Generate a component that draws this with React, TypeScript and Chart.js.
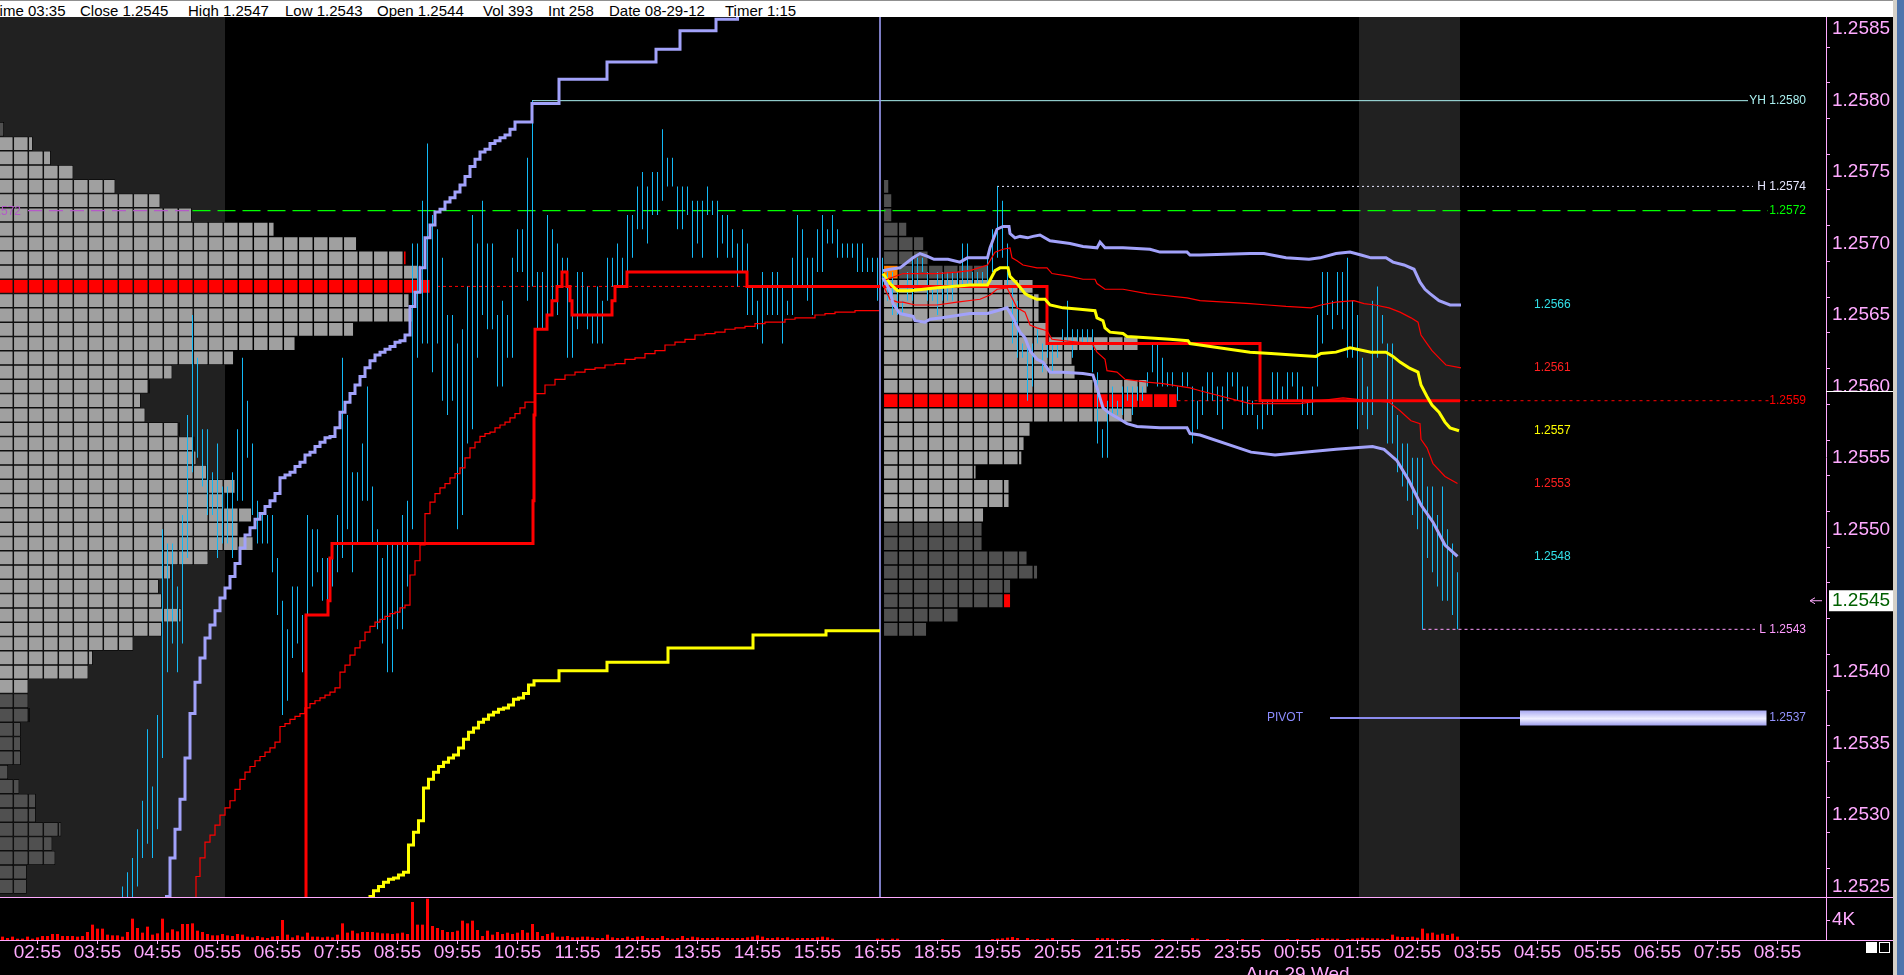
import React, { useEffect, useRef } from 'react';
import { Chart, registerables } from 'chart.js';

Chart.register(...registerables);

// ---------- styling constants ----------
const PINK = '#ffaaff';
const FONT = '"Liberation Sans", Arial, sans-serif';
const BLUE = '#12b9f6';
const LAV = '#a2a2fa';
const RED = '#ff0000';
const YEL = '#ffff00';

// ---------- scale geometry (5-minute bar index on x, price on y) ----------
const X_MIN = -7.5;
const X_MAX = 357.7;
const Y_MIN = 1.2524265;
const Y_MAX = 1.2585856;
const ROW_PX = 14.29;

const BASE = 1.25;
const PIP = 0.0001;
const toPrice = (p: number) => BASE + p * PIP;

// ---------- x axis (bar index 0 = 02:55 Aug 28, closed hour 17:00 skipped) ----------
const hourTickIndex = [0, 12, 24, 36, 48, 60, 72, 84, 96, 108, 120, 132, 144, 156, 168, 180, 192, 204, 216, 228, 240, 252, 264, 276, 288, 300, 312, 324, 336, 348];
const hourTickLabels = ['02:55', '03:55', '04:55', '05:55', '06:55', '07:55', '08:55', '09:55', '10:55', '11:55', '12:55', '13:55', '14:55', '15:55', '16:55', '18:55', '19:55', '20:55', '21:55', '22:55', '23:55', '00:55', '01:55', '02:55', '03:55', '04:55', '05:55', '06:55', '07:55', '08:55'];
const dayLabel = 'Aug 29 Wed';
const dayLabelTick = 21;

// ---------- y axis ----------
const priceTickLabels = ['1.2525', '1.2530', '1.2535', '1.2540', '1.2545', '1.2550', '1.2555', '1.2560', '1.2565', '1.2570', '1.2575', '1.2580', '1.2585'];
const volumeTicks = [4000];
const volumeTickLabels = ['4K'];
const VOL_MAX = 8600;

// ---------- session shading (bar index ranges) ----------
const shadeRanges = [[-8, 37.5], [264.3, 284.5]];
const sessionBreak = 168.5;

// ---------- price bars (pips above 1.2500), first bar index 17 ----------
const barStartIndex = 17;
const barHighs = [
  25, 26, 27, 29, 31, 36, 32, 37, 50, 49,
  49, 46, 51, 58, 65, 62, 57, 57, 54, 56,
  53, 53, 54, 57, 62, 59, 56, 52, 51, 51,
  51, 48, 45, 43, 46, 46, 44, 51, 50, 50,
  48, 48, 49, 51, 62, 58, 54, 54, 56, 60,
  53, 50, 48, 49, 49, 49, 51, 52, 70, 70,
  73, 77, 72, 71, 69, 65, 65, 63, 64, 67,
  72, 70, 73, 70, 70, 65, 66, 65, 69, 71,
  71, 76, 80, 68, 68, 72, 71, 70, 69, 69,
  66, 68, 68, 67, 65, 67, 66, 69, 69, 70,
  69, 72, 72, 74, 75, 74, 75, 75, 78, 76,
  76, 74, 74, 74, 73, 73, 73, 74, 73, 73,
  72, 72, 71, 70, 71, 70, 67, 66, 68, 67,
  68, 68, 67, 66, 69, 72, 71, 69, 69, 71,
  72, 71, 72, 71, 70, 70, 70, 70, 70, 69,
  69, 69,
  69, 68, 68, 67, 66, 68, 69, 69, 69, 68,
  67, 68, 68, 68, 68, 68, 70, 70, 68, 68,
  68, 69, 71, 74, 73, 70, 67, 66, 63, 63,
  63, 64, 63, 64, 63, 63, 64, 66, 64, 64,
  64, 64, 64, 61, 57, 59, 60, 59, 60, 60,
  60, 60, 60, 61, 63, 63, 62, 61, 61, 60,
  61, 61, 60, 59, 60, 61, 61, 60, 60, 61,
  61, 61, 60, 60, 59, 58, 59, 59, 61, 61,
  60, 61, 61, 61, 60, 59, 60, 65, 68, 68,
  66, 68, 68, 69, 66, 65, 62, 60, 66, 67,
  65, 63, 63, 58, 56, 56, 55, 55, 55, 53,
  53, 51, 53, 50, 49, 47,
];
const barLows = [
  22, 22, 23, 25, 27, 28, 27, 29, 34, 40,
  42, 40, 42, 48, 54, 55, 53, 51, 51, 48,
  49, 49, 48, 52, 52, 55, 51, 49, 49, 49,
  47, 44, 37, 38, 41, 42, 40, 44, 46, 47,
  45, 45, 46, 47, 48, 50, 47, 49, 52, 52,
  49, 43, 42, 40, 40, 43, 43, 46, 50, 62,
  63, 63, 61, 63, 59, 58, 59, 50, 51, 56,
  57, 62, 65, 64, 64, 60, 60, 62, 62, 68,
  68, 66, 67, 64, 64, 64, 65, 65, 67, 62,
  62, 64, 65, 64, 63, 63, 63, 66, 67, 67,
  67, 68, 69, 71, 71, 70, 72, 72, 73, 74,
  74, 71, 71, 72, 69, 70, 69, 72, 72, 69,
  70, 69, 69, 67, 68, 65, 65, 64, 63, 65,
  65, 65, 63, 65, 65, 67, 67, 66, 65, 68,
  68, 70, 70, 69, 69, 69, 69, 68, 68, 68,
  68, 66,
  67, 66, 65, 65, 65, 66, 66, 67, 68, 66,
  66, 65, 66, 66, 66, 67, 67, 67, 67, 67,
  67, 67, 68, 69, 69, 67, 63, 62, 62, 59,
  60, 63, 61, 62, 61, 62, 63, 63, 62, 63,
  63, 63, 61, 56, 55, 55, 58, 58, 58, 59,
  58, 59, 59, 60, 61, 60, 60, 60, 60, 59,
  60, 60, 56, 57, 58, 59, 59, 58, 57, 59,
  60, 59, 58, 58, 58, 57, 57, 58, 58, 59,
  59, 59, 60, 59, 58, 58, 58, 60, 63, 65,
  64, 65, 64, 62, 62, 57, 58, 57, 58, 62,
  63, 56, 56, 54, 53, 52, 51, 50, 43, 48,
  47, 46, 45, 45, 44, 43,
];

// ---------- volume ----------
const volStartIndex = -7;
const volumesDay1 = [
  670, 400, 670, 270, 270, 670, 270,
  530, 800, 800, 1200, 1200, 800, 800, 800, 670, 800,
  1600, 3070, 2270, 2270, 1070, 930, 930, 670, 1600, 4270,
  2400, 1470, 2670, 1070, 1330, 4270, 1470, 2130, 1730, 3200,
  3200, 3330, 1870, 1600, 1200, 930, 930, 1200, 930, 800,
  1200, 1070, 670, 530, 800, 530, 400, 670, 800, 4000,
  1070, 530, 930, 670, 1470, 670, 670, 530, 670, 530,
  1070, 3330, 1470, 1870, 1330, 1600, 1600, 1600, 1470, 1330,
  1330, 1200, 1330, 1470, 1200, 7600, 3070, 3070, 8270, 2800,
  2400, 2000, 1600, 1600, 1870, 3870, 3330, 3870, 2000, 800,
  1870, 1070, 1600, 1200, 1470, 1200, 1470, 2000, 1470, 3200,
  1600, 800, 1200, 1470, 670, 670, 800, 530, 530, 670,
  670, 530, 400, 400, 1070, 530, 400, 400, 670, 400,
  670, 800, 400, 400, 400, 800, 400, 270, 400, 800,
  400, 670, 530, 400, 400, 400, 530, 400, 400, 400,
  400, 400, 530, 670, 930, 670, 400, 400, 530, 400,
  530, 270, 400, 400, 400, 400, 530, 670, 530, 270,
];
const volumesLate = [
  [168, 270], [169, 270], [171, 270], [172, 270], [181, 200], [191, 200], [192, 270], [193, 330], [194, 470], [195, 600],
  [196, 400], [198, 400], [199, 130], [200, 200], [202, 270], [203, 400], [207, 200], [212, 400], [213, 330], [214, 400],
  [215, 270], [217, 200], [218, 200], [223, 200], [225, 200], [231, 400], [232, 270], [234, 200], [238, 200], [241, 200],
  [245, 200], [250, 200], [252, 200], [255, 200], [256, 330], [257, 400], [258, 270], [259, 270], [260, 270], [262, 200],
  [263, 270], [264, 330], [265, 470], [266, 330], [267, 330], [268, 330], [269, 270], [270, 200], [271, 1070], [272, 670],
  [273, 600], [274, 600], [275, 670], [276, 470], [277, 2270], [278, 1330], [279, 1470], [280, 1070], [281, 1270], [282, 1000],
  [283, 1270], [284, 670],
];

// ---------- market profiles (TPO counts per pip row, 3 bars per cell) ----------
const leftProfileStart = -7.84;
const leftProfileTopPip = 78;
const leftProfileCounts = [
  0.38, 2.3, 3.5, 5.0, 7.8, 10.8, 12.9, 18.4, 23.9, 27.2,
  28.2, 28.8, 27.4, 27.6, 23.7, 19.8, 15.7, 11.6, 10.1, 9.5,
  9.8, 12.1, 13.1, 13.2, 13.9, 15.8, 15.0, 16.9, 16.0, 17.1,
  14.0, 11.5, 10.7, 10.9, 12.2, 10.9, 9.0, 6.3, 6.0, 2.0,
  2.0, 2.1, 1.5, 1.5, 1.5, 0.65, 1.4, 2.5, 2.5, 4.2,
  3.6, 3.8, 1.9, 1.9,
];
const leftProfileShades = 'd' + 'llllllllll' + 'r' + 'llllllllll' + 'llllllllll' + 'llllllll' + 'dddddddddddddd';
const leftProfileRedTail = [69];

const day2ProfileStart = 169.16;
const day2ProfileTopPip = 74;
const day2ProfileCounts = [
  0.38, 0.58, 0.58, 1.58, 2.71, 3.0, 7.0, 10.1, 10.4, 10.4,
  10.9, 17.0, 12.6, 12.8, 17.6, 19.6, 16.6, 9.8, 9.4, 9.25,
  6.2, 8.4, 8.4, 6.7, 6.6, 6.6, 9.6, 10.3, 8.5, 8.5,
  5.1, 2.9,
];
const day2ProfileShades = 'ddddddd' + 'llllllll' + 'r' + 'llllllll' + 'dddddddd';
const day2ProfileRedTail = [45];
const day2ProfileOpenPip = 68;

// ---------- studies: [bar index, pips above 1.2500] ----------
const lavenderDay1 = [
  [25.5, 24.3], [26.5, 27.0], [27.5, 29.0], [28.5, 31.1], [29.5, 34.0], [30.5, 37.1], [31.5, 39.3], [32.5, 41.0], [33.5, 42.4], [34.5, 43.3],
  [35.5, 44.3], [36.5, 45.2], [37.5, 45.9], [38.5, 46.7], [39.5, 47.6], [40.5, 48.7], [41.5, 49.6], [42.5, 50.1], [43.5, 50.7], [44.5, 51.1],
  [45.5, 51.6], [46.5, 52.0], [47.5, 52.5], [48.5, 53.6], [49.5, 53.8], [50.5, 54.0], [51.5, 54.4], [52.5, 54.7], [53.5, 55.2], [54.5, 55.4],
  [55.5, 55.8], [56.5, 56.1], [57.5, 56.4], [58.5, 56.5], [59.5, 57.1], [60.5, 58.2], [61.5, 58.9], [62.5, 59.5], [63.5, 60.1], [64.5, 60.7],
  [65.5, 61.3], [66.5, 61.8], [67.5, 62.2], [68.5, 62.4], [69.5, 62.6], [70.5, 62.8], [71.5, 63.1], [72.5, 63.2], [73.5, 63.6], [74.5, 65.6],
  [75.5, 66.6], [76.5, 68.3], [77.5, 70.4], [78.5, 71.3], [79.5, 72.2], [80.5, 72.4], [81.5, 72.9], [82.5, 73.2], [83.5, 73.6], [84.5, 74.1],
  [85.5, 74.7], [86.5, 75.4], [87.5, 75.9], [88.5, 76.4], [89.5, 76.6], [90.5, 77.0], [91.5, 77.2], [92.5, 77.4], [93.5, 77.6], [94.5, 78.0],
  [95.5, 78.5], [98.9, 79.8], [104.3, 81.5], [113.9, 82.7], [123.7, 83.6], [128.5, 84.9], [135.7, 85.7], [140, 86.5],
];
const redThinDay1 = [
  [31.5, 22], [31.7, 25.7], [32.5, 27.0], [33.5, 28.1], [34.5, 28.6], [35.5, 29.3], [36.5, 30.0], [37.5, 30.5], [38.5, 31.0], [39.5, 31.8],
  [40.5, 32.5], [41.5, 33.0], [42.5, 33.4], [43.5, 33.8], [44.5, 34.1], [45.5, 34.4], [46.5, 34.7], [47.5, 35.1], [48.5, 36.2], [49.5, 36.4],
  [50.5, 36.7], [51.5, 36.9], [52.5, 37.1], [53.5, 37.5], [54.5, 37.8], [55.5, 38.0], [56.5, 38.2], [57.5, 38.4], [58.5, 38.6], [59.5, 38.9],
  [60.5, 40.0], [61.5, 40.5], [62.5, 41.2], [63.5, 41.7], [64.5, 42.2], [65.5, 42.8], [66.5, 43.2], [67.5, 43.5], [68.5, 43.7], [69.5, 43.9],
  [70.5, 44.1], [71.5, 44.2], [72.5, 44.5], [73.5, 44.7], [74.5, 46.8], [75.5, 47.8], [76.5, 48.9], [77.5, 51.1], [78.5, 51.9], [79.5, 52.5],
  [80.5, 52.9], [81.5, 53.2], [82.5, 53.6], [83.5, 53.9], [84.5, 54.3], [85.5, 55.0], [86.5, 55.7], [87.5, 56.1], [88.5, 56.5], [89.5, 56.7],
  [90.5, 56.8], [91.5, 57.1], [92.5, 57.3], [93.5, 57.5], [94.5, 57.8], [95.5, 58.1], [96.5, 58.5], [97.5, 58.9], [99.5, 59.5], [101.5, 60.1],
  [103.5, 60.5], [105.5, 60.8], [107.5, 61.0], [109.5, 61.2], [111.5, 61.3], [113.5, 61.5], [115.5, 61.6], [117.5, 61.9], [119.5, 62.0], [121.5, 62.3],
  [123.5, 62.5], [125.5, 62.9], [127.5, 63.1], [129.5, 63.3], [131.5, 63.6], [133.5, 63.7], [135.5, 63.8], [137.5, 64.0], [139.5, 64.1], [141.5, 64.2],
  [143.5, 64.4], [145.5, 64.5], [147.5, 64.5], [149.5, 64.7], [151.5, 64.8], [153.5, 64.8], [155.5, 65.0], [157.5, 65.1], [159.5, 65.2], [163.5, 65.3],
  [168.3, 65.3],
];
const yellowDay1 = [
  [66.2, 24.3], [67.2, 24.7], [68.2, 25.0], [69.2, 25.3], [70.2, 25.5], [71.2, 25.6], [72.2, 25.8], [73.2, 26.0], [74.2, 27.9], [75.2, 28.8],
  [76.2, 29.6], [77.2, 31.9], [78.2, 32.5], [79.2, 33.0], [80.2, 33.4], [81.2, 33.7], [82.2, 34.0], [83.2, 34.2], [84.2, 34.7], [85.2, 35.3],
  [86.2, 35.8], [87.2, 36.1], [88.2, 36.5], [89.2, 36.7], [90.2, 37.0], [91.2, 37.2], [92.2, 37.4], [93.2, 37.5], [94.2, 37.7], [95.2, 38.1],
  [96.2, 38.2], [97.2, 38.5], [98.2, 39.1], [99.3, 39.4], [104.3, 40.1], [113.9, 40.7], [126.1, 41.7], [143.1, 42.6], [157.7, 42.9], [168.5, 42.9],
];
const pocDay1 = [
  [50, 20], [53.7, 44], [58.1, 45], [58.5, 48], [58.9, 49], [99.1, 52], [99.3, 58], [99.5, 64], [101.9, 65], [102.9, 66],
  [103.9, 67], [104.9, 68], [105.9, 67], [106.5, 66], [106.9, 65], [114.9, 66], [115.5, 67], [117.9, 68], [141.9, 67], [168.5, 67],
];
const lavUpperDay2 = [
  [169.1, 68.1], [170.5, 68.2], [172.5, 68.3], [175.1, 69.0], [176.5, 69.3], [178, 69.1], [179.3, 68.9], [182.1, 68.9], [184.5, 68.7], [186, 69.0],
  [190, 69.0], [190.5, 69.7], [191.9, 71.0], [193.1, 71.2], [194.3, 71.2], [194.5, 70.7], [195.5, 70.4], [196.5, 70.5], [198, 70.4], [199.1, 70.5],
  [200.5, 70.6], [202.5, 70.2], [206.5, 70.0], [209.1, 69.8], [211.9, 69.7], [212.5, 70.1], [213.5, 69.7], [217.1, 69.7], [222.5, 69.6], [224.5, 69.4],
  [229.9, 69.4], [230.5, 69.2], [232.5, 69.2], [242.5, 69.3], [245.3, 69.3], [249.7, 69.0], [254.3, 68.9], [256.5, 69.0], [259.7, 69.3], [262.5, 69.4],
  [264.7, 69.2], [266.7, 69.0], [269.7, 69.0], [271.1, 68.7], [273.3, 68.5], [275.3, 68.2], [276.5, 67.3], [277.5, 66.8], [278.5, 66.5], [280.3, 66.0],
  [282.5, 65.7], [284.7, 65.7],
];
const lavLowerDay2 = [
  [169.1, 67.6], [170.5, 66.7], [171.1, 65.8], [172.5, 65.1], [175.1, 64.9], [175.5, 64.6], [177.5, 64.5], [178.5, 64.7], [180.9, 64.8], [186.5, 65.1],
  [190, 65.1], [191.9, 65.3], [193.9, 65.5], [195.1, 64.8], [196.5, 63.8], [197.5, 63.4], [198.5, 62.5], [199.9, 61.9], [201.1, 61.7], [202.5, 61.0],
  [205.1, 61.0], [209.1, 60.9], [211.1, 60.8], [211.9, 59.9], [212.5, 59.2], [213.1, 58.5], [214.5, 58.1], [216.5, 57.7], [217.9, 57.4], [219.9, 57.2],
  [224.5, 57.1], [229.9, 57.1], [230.5, 56.7], [232.5, 56.6], [242.7, 55.4], [247.5, 55.2], [259.7, 55.6], [267, 55.8], [269.3, 55.6], [271.9, 54.8],
  [274.3, 53.4], [276.7, 51.7], [279.1, 50.5], [281.5, 48.9], [284, 48.1],
];
const redUpperDay2 = [
  [169.1, 67.4], [173.1, 67.9], [179.9, 67.9], [183.9, 68.0], [186.5, 68.1], [190, 68.5], [191.5, 69.4], [193.1, 69.6], [194.5, 69.7], [194.9, 69.0],
  [195.9, 68.8], [197.1, 68.5], [199.9, 68.3], [201.9, 68.3], [202.9, 67.9], [206.5, 67.7], [209.1, 67.5], [211.5, 67.5], [211.9, 67.2], [213.5, 66.8],
  [217.1, 66.8], [221.9, 66.5], [224.5, 66.4], [229.9, 66.2], [232.5, 66.0], [242.5, 65.8], [246.1, 65.7], [249.7, 65.6], [254.7, 65.5], [256.7, 65.7],
  [259.7, 65.9], [263.3, 66.0], [265.3, 65.8], [267.5, 65.7], [270.3, 65.5], [272.5, 65.2], [274.7, 64.8], [276.1, 64.5], [276.7, 63.6], [277.9, 63.0],
  [278.9, 62.5], [280.3, 62.0], [281.7, 61.5], [284.7, 61.3],
];
const redLowerDay2 = [
  [169.1, 67.1], [170.5, 66.1], [172, 65.9], [173.1, 65.9], [175.5, 65.7], [179.9, 65.7], [183.9, 65.9], [188.5, 66.1], [190.5, 66.4], [191.9, 66.8],
  [193.9, 66.9], [194.9, 66.2], [195.9, 65.5], [197.5, 65.2], [198.5, 64.3], [199.9, 64.1], [201.9, 63.9], [202.9, 63.3], [205.1, 63.2], [210.9, 63.0],
  [211.9, 62.4], [213.5, 61.9], [213.9, 61.1], [215.9, 61.0], [217.5, 60.5], [221.9, 60.3], [225.1, 60.2], [230.5, 59.9], [232.5, 59.7], [242.5, 58.8],
  [252.5, 58.8], [256.7, 59.0], [261.1, 59.2], [263.9, 59.1], [270.3, 58.9], [272.5, 58.3], [274.7, 57.6], [276.5, 57.4], [276.7, 56.3], [277.9, 55.7],
  [279.1, 54.6], [281.5, 53.7], [284, 53.2],
];
const yellowDay2 = [
  [169.1, 67.9], [170.5, 67.2], [172, 66.7], [174.5, 66.7], [179.9, 66.9], [186.5, 67.1], [190, 67.1], [191.5, 68.1], [192.5, 68.3], [194.1, 68.3],
  [194.5, 67.7], [195.9, 67.2], [197.5, 66.5], [198.5, 66.3], [199.9, 66.1], [201.5, 66.1], [202.5, 65.7], [205.1, 65.5], [208.5, 65.4], [211.5, 65.3],
  [211.9, 64.8], [213.1, 64.6], [213.5, 64.1], [214.5, 63.8], [217.1, 63.7], [217.9, 63.5], [221.9, 63.4], [226.5, 63.3], [230.1, 63.2], [230.5, 63.0],
  [232.5, 62.9], [242.5, 62.4], [246.7, 62.3], [251.1, 62.2], [255.7, 62.1], [256.7, 62.3], [259.7, 62.4], [262.5, 62.7], [263.9, 62.6], [266.7, 62.4],
  [269.7, 62.4], [271.1, 62.1], [272.5, 61.7], [274.3, 61.3], [276.1, 61.0], [276.7, 60.1], [277.9, 59.3], [278.9, 58.7], [280.3, 58.2], [281.5, 57.5],
  [282.5, 57.1], [284.3, 56.9],
];
const pocDay2 = [[169.1, 67], [201.9, 63], [244.5, 59], [284.5, 59]];

// ---------- reference levels ----------
const levelPrefixes = ['YH ', 'H ', '', '', 'L ', ''];
const levelValues = [1.2580, 1.2574, 1.25723, 1.2559, 1.2543, 1.25368];
const levelStarts = [98.9, 191.9, 31.0, 228.0, 277.0, 296.5];
const levelEnds = [342.1, 343.1, 346.1, 346.5, 343.5, 345.8];
const levelColors = ['#aaf0f0', '#e6e6ff', '#00ff00', '#ff0000', '#ff9cff', '#9494ff'];
const levelLabelIndex = 353.7;
const pocDay1Level = 1.2567;
const pocDay1DotStart = 79.9;
const pivotLineStart = 258.5;
const pivotLabelIndex = 245.9;
const leftLevelLabelIndex = -3.3;
const leftDashStart = -1.9;
const bandLabelIndex = 299.3;
const lastClose = 1.2545;
const axisMarkerLevel = 1.25597;

const statusItems = [
  [-9, 'Time 03:35'], [80, 'Close 1.2545'], [188, 'High 1.2547'], [285, 'Low 1.2543'], [377, 'Open 1.2544'],
  [483, 'Vol 393'], [548, 'Int 258'], [609, 'Date 08-29-12'], [725, 'Timer 1:15'],
];

// ---------- builders ----------
function profileCells(start: number, topPip: number, counts: number[], shades: string, redTail: number[], openPip: number | null) {
  const out: any = { l: [], d: [], r: [], o: [] };
  counts.forEach((c, r) => {
    const pip = topPip - r;
    const n = Math.ceil(c - 1e-9);
    for (let k = 0; k < n; k++) {
      const cell = { y: toPrice(pip), x: [start + 3 * k, start + 3 * Math.min(k + 1, c)] };
      let key = shades[r];
      if (redTail.includes(pip) && k === n - 1) key = 'r';
      if (openPip === pip && k === 0) key = 'o';
      out[key].push(cell);
    }
  });
  return out;
}

const cellDs = (data: any[], color: string) => ({
  type: 'bar', indexAxis: 'y', data, backgroundColor: color, borderColor: '#000000', borderWidth: 0.75,
  borderSkipped: false, barThickness: ROW_PX, grouped: false, inflateAmount: 0, order: 100,
});

const lineDs = (pts: number[][], color: string, width: number, extra: any = {}) => ({
  type: 'line', data: pts.map(([x, p]) => ({ x, y: toPrice(p) })), borderColor: color, borderWidth: width,
  pointRadius: 0, pointHitRadius: 0, fill: false, tension: 0, order: 10, ...extra,
});

const levelDs = (x0: number, x1: number, v: number, color: string, width: number, dash: number[] = [], order = 30) => ({
  type: 'line', data: [{ x: x0, y: v }, { x: x1, y: v }], borderColor: color, borderWidth: width, borderDash: dash,
  pointRadius: 0, pointHitRadius: 0, fill: false, order,
});

function priceTickValues() {
  const vals = priceTickLabels.map(Number);
  const out: number[] = [];
  vals.forEach((v, k) => { out.push(v); if (k < vals.length - 1) out.push((v + vals[k + 1]) / 2); });
  return out;
}

const noPad = (s: any) => { s.paddingTop = 0; s.paddingBottom = 0; s.paddingLeft = 0; s.paddingRight = 0; };

const bands = [
  { pts: lavUpperDay2, color: '#33e0e8' },
  { pts: redUpperDay2, color: '#ff2020' },
  { pts: yellowDay2, color: '#ffff00' },
  { pts: redLowerDay2, color: '#ff2020' },
  { pts: lavLowerDay2, color: '#33e0e8' },
];

const shadePlugin = {
  id: 'sessionShade',
  beforeDatasetsDraw(chart: any) {
    const { ctx, chartArea, scales } = chart;
    ctx.save();
    ctx.fillStyle = '#212121';
    shadeRanges.forEach(([a, b]) => {
      const x0 = Math.max(chartArea.left, scales.x.getPixelForValue(a));
      const x1 = Math.min(chartArea.right, scales.x.getPixelForValue(b));
      ctx.fillRect(x0, chartArea.top, x1 - x0, chartArea.bottom - chartArea.top);
    });
    ctx.restore();
  },
};

const labelPlugin = {
  id: 'levelLabels',
  afterDraw(chart: any) {
    const { ctx, scales } = chart;
    const xs = scales.x, ys = scales.y;
    ctx.save();
    ctx.font = '12px ' + FONT;
    ctx.textBaseline = 'middle';
    ctx.textAlign = 'right';
    levelValues.forEach((v, k) => {
      ctx.fillStyle = levelColors[k];
      ctx.fillText(levelPrefixes[k] + v.toFixed(4), xs.getPixelForValue(levelLabelIndex), ys.getPixelForValue(v));
    });
    ctx.fillStyle = '#b45ac8';
    ctx.fillText(levelValues[2].toFixed(4), xs.getPixelForValue(leftLevelLabelIndex), ys.getPixelForValue(levelValues[2]) + 1);
    ctx.textAlign = 'left';
    bands.forEach((b) => {
      const v = toPrice(b.pts[b.pts.length - 1][1]);
      ctx.fillStyle = b.color;
      ctx.fillText(v.toFixed(4), xs.getPixelForValue(bandLabelIndex), ys.getPixelForValue(v));
    });
    ctx.fillStyle = '#8c8cff';
    ctx.fillText('PIVOT', xs.getPixelForValue(pivotLabelIndex), ys.getPixelForValue(levelValues[5]));
    const ax = chart.chartArea.right;
    const my = Math.round(ys.getPixelForValue(axisMarkerLevel)) + 0.5;
    ctx.strokeStyle = '#ffffff';
    ctx.lineWidth = 1;
    ctx.beginPath(); ctx.moveTo(ax, my); ctx.lineTo(ax + 67, my); ctx.stroke();
    const cy = ys.getPixelForValue(lastClose);
    ctx.strokeStyle = PINK;
    ctx.beginPath();
    ctx.moveTo(ax - 16, cy); ctx.lineTo(ax - 4, cy);
    ctx.moveTo(ax - 16, cy); ctx.lineTo(ax - 11, cy - 3);
    ctx.moveTo(ax - 16, cy); ctx.lineTo(ax - 11, cy + 3);
    ctx.stroke();
    ctx.fillStyle = '#ffffff';
    ctx.fillRect(ax + 3, cy - 10.5, 64, 21);
    ctx.fillStyle = '#006000';
    ctx.font = '19px ' + FONT;
    ctx.fillText(lastClose.toFixed(4), ax + 6, cy + 0.5);
    ctx.restore();
  },
};

function priceConfig(): any {
  const L = profileCells(leftProfileStart, leftProfileTopPip, leftProfileCounts, leftProfileShades, leftProfileRedTail, null);
  const R = profileCells(day2ProfileStart, day2ProfileTopPip, day2ProfileCounts, day2ProfileShades, day2ProfileRedTail, day2ProfileOpenPip);
  const pivot = levelValues[5];
  const datasets: any[] = [
    lineDs(lavenderDay1, LAV, 3, { stepped: 'before' }),
    lineDs(redThinDay1, RED, 1.2, { stepped: 'before' }),
    lineDs(yellowDay1, YEL, 3, { stepped: 'before' }),
    lineDs(pocDay1, RED, 3, { stepped: 'before' }),
    lineDs(lavUpperDay2, LAV, 3),
    lineDs(lavLowerDay2, LAV, 3),
    lineDs(redUpperDay2, RED, 1.2),
    lineDs(redLowerDay2, RED, 1.2),
    lineDs(yellowDay2, YEL, 3),
    lineDs(pocDay2, RED, 3, { stepped: 'before' }),
    {
      type: 'bar',
      data: barHighs.map((h, k) => ({ x: barStartIndex + k, y: [toPrice(barLows[k]), toPrice(h)] })),
      backgroundColor: BLUE, borderWidth: 0, barThickness: 1, grouped: false, inflateAmount: 0, order: 20,
    },
    {
      type: 'line', data: [{ x: sessionBreak, y: Y_MIN }, { x: sessionBreak, y: Y_MAX }], borderColor: '#9c9cf6',
      borderWidth: 1.6, pointRadius: 0, fill: false, order: 25,
    },
    levelDs(levelStarts[0], levelEnds[0], levelValues[0], levelColors[0], 1),
    levelDs(levelStarts[1], levelEnds[1], levelValues[1], levelColors[1], 1, [2, 3]),
    levelDs(levelStarts[2], levelEnds[2], levelValues[2], levelColors[2], 1.3, [18, 7]),
    levelDs(leftDashStart, levelStarts[2], levelValues[2], '#b45ac8', 1.3, [14, 7]),
    levelDs(levelStarts[3], levelEnds[3], levelValues[3], levelColors[3], 1, [3, 4]),
    levelDs(levelStarts[4], levelEnds[4], levelValues[4], levelColors[4], 1, [3, 3]),
    levelDs(pocDay1DotStart, sessionBreak, pocDay1Level, RED, 1, [3, 3]),
    levelDs(pivotLineStart, levelStarts[5], pivot, '#8c8cf0', 2),
    {
      type: 'line', data: [{ x: levelStarts[5], y: pivot }, { x: levelEnds[5], y: pivot }], borderWidth: 15,
      borderCapStyle: 'butt', pointRadius: 0, fill: false, order: 30,
      borderColor: (c: any) => {
        const ch = c.chart;
        if (!ch.chartArea) return '#c8c8ff';
        const yy = ch.scales.y.getPixelForValue(pivot);
        const g = ch.ctx.createLinearGradient(0, yy - 7.5, 0, yy + 7.5);
        g.addColorStop(0, '#a8a8f2');
        g.addColorStop(0.55, '#f0f0ff');
        g.addColorStop(1, '#a0a0ee');
        return g;
      },
    },
    cellDs(L.l.concat(R.l), '#a0a0a0'),
    cellDs(L.d.concat(R.d), '#505050'),
    cellDs(L.r.concat(R.r), '#ff0000'),
    cellDs(R.o, '#ff8000'),
  ];
  return {
    type: 'line',
    data: { datasets },
    options: {
      animation: false, responsive: false, devicePixelRatio: 1, events: [],
      layout: { padding: 0, autoPadding: false },
      plugins: { legend: { display: false }, tooltip: { enabled: false } },
      scales: {
        x: { type: 'linear', min: X_MIN, max: X_MAX, offset: false, display: false },
        y: {
          type: 'linear', position: 'right', min: Y_MIN, max: Y_MAX, offset: false,
          afterFit: (s: any) => { s.width = 78; noPad(s); },
          afterBuildTicks: (s: any) => { s.ticks = priceTickValues().map((v) => ({ value: v })); },
          ticks: {
            autoSkip: false, color: PINK, padding: 2, font: { family: FONT, size: 19 },
            callback: (_v: any, idx: number) => (idx % 2 === 0 ? priceTickLabels[idx / 2] : ''),
          },
          grid: { display: true, drawOnChartArea: false, drawTicks: true, tickLength: 4, color: PINK, lineWidth: 1 },
          border: { display: true, color: PINK, width: 1 },
        },
      },
    },
    plugins: [shadePlugin, labelPlugin],
  };
}

function volumeConfig(): any {
  const data: any[] = volumesDay1.map((v, k) => ({ x: volStartIndex + k, y: v }));
  volumesLate.forEach(([i, v]) => data.push({ x: i, y: v }));
  return {
    type: 'bar',
    data: {
      datasets: [{
        type: 'bar', data, backgroundColor: RED, borderWidth: 0, barThickness: 3, grouped: false, inflateAmount: 0,
      }],
    },
    options: {
      animation: false, responsive: false, devicePixelRatio: 1, events: [],
      layout: { padding: 0, autoPadding: false },
      plugins: { legend: { display: false }, tooltip: { enabled: false } },
      scales: {
        x: {
          type: 'linear', min: X_MIN, max: X_MAX, offset: false,
          afterFit: (s: any) => { s.height = 35; noPad(s); },
          afterBuildTicks: (s: any) => { s.ticks = hourTickIndex.map((v) => ({ value: v })); },
          ticks: {
            autoSkip: false, maxRotation: 0, minRotation: 0, color: PINK, padding: -2,
            font: { family: FONT, size: 19, lineHeight: 1.15 },
            callback: (_v: any, idx: number) => (idx === dayLabelTick ? [hourTickLabels[idx], dayLabel] : hourTickLabels[idx]),
          },
          grid: { display: true, drawOnChartArea: false, drawTicks: true, tickLength: 4, color: PINK, offset: false },
          border: { display: false },
        },
        y: {
          type: 'linear', position: 'right', min: 0, max: VOL_MAX, offset: false,
          afterFit: (s: any) => { s.width = 78; noPad(s); },
          afterBuildTicks: (s: any) => { s.ticks = volumeTicks.map((v) => ({ value: v })); },
          ticks: {
            autoSkip: false, color: PINK, padding: 2, font: { family: FONT, size: 19 },
            callback: (_v: any, idx: number) => volumeTickLabels[idx],
          },
          grid: { display: true, drawOnChartArea: false, drawTicks: true, tickLength: 4, color: PINK },
          border: { display: true, color: PINK, width: 1 },
        },
      },
    },
  };
}

export default function App() {
  const priceRef = useRef<HTMLCanvasElement>(null);
  const volRef = useRef<HTMLCanvasElement>(null);

  useEffect(() => {
    document.body.style.margin = '0';
    document.body.style.overflow = 'hidden';
    document.body.style.background = '#000';
    const pc = new Chart(priceRef.current as HTMLCanvasElement, priceConfig());
    const vc = new Chart(volRef.current as HTMLCanvasElement, volumeConfig());
    return () => { pc.destroy(); vc.destroy(); };
  }, []);

  return (
    <div style={{ position: 'relative', width: 1904, height: 975, background: '#000', overflow: 'hidden' }}>
      <canvas ref={priceRef} width={1904} height={880} style={{ position: 'absolute', left: 0, top: 17, width: 1904, height: 880 }} />
      <canvas ref={volRef} width={1904} height={78} style={{ position: 'absolute', left: 0, top: 897, width: 1904, height: 78 }} />
      <div style={{ position: 'absolute', left: 0, top: 0, width: 1893, height: 17, background: '#ffffff', borderTop: '1px solid #909090', boxSizing: 'border-box', overflow: 'hidden' }}>
        {statusItems.map(([x, t]) => (
          <span key={String(t)} style={{ position: 'absolute', left: x as number, top: 1, font: '15px ' + FONT, lineHeight: '17px', color: '#000', whiteSpace: 'pre' }}>{t}</span>
        ))}
      </div>
      <div style={{ position: 'absolute', left: 0, top: 897, width: 1893, height: 1, background: PINK }} />
      <div style={{ position: 'absolute', left: 0, top: 940, width: 1893, height: 1, background: PINK }} />
      <div style={{ position: 'absolute', left: 1893, top: 0, width: 4, height: 975, background: '#d4d0c8' }} />
      <div style={{ position: 'absolute', left: 1897, top: 0, width: 7, height: 975, background: '#4e74ac' }} />
      <div style={{ position: 'absolute', left: 1866, top: 942, width: 11, height: 11, background: '#ffffff' }} />
      <div style={{ position: 'absolute', left: 1879, top: 942, width: 11, height: 11, border: '1px solid #ffffff', boxSizing: 'border-box' }} />
    </div>
  );
}
